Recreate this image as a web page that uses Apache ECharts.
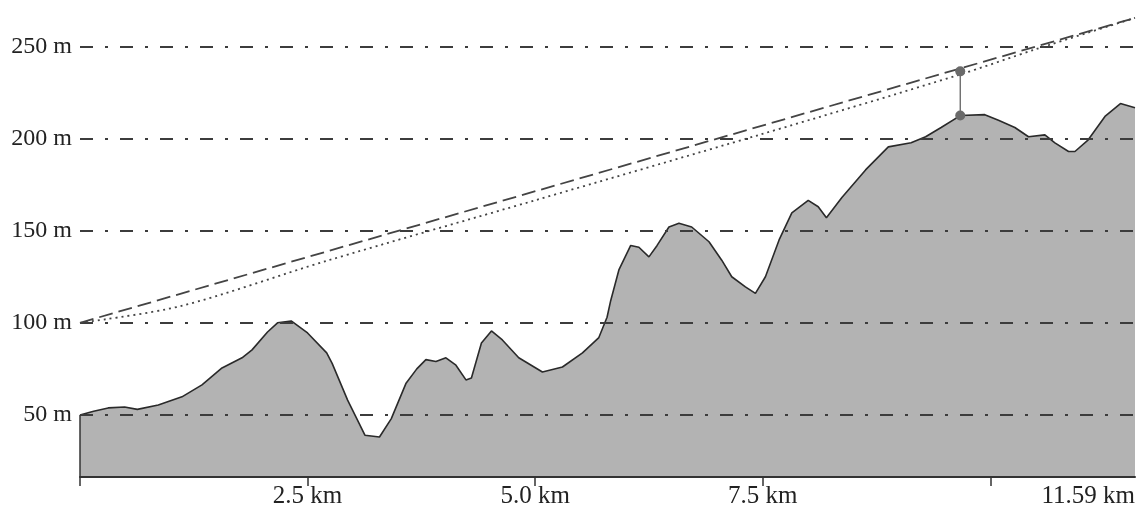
<!DOCTYPE html>
<html>
<head>
<meta charset="utf-8">
<script src="https://cdn.jsdelivr.net/npm/echarts@6/dist/echarts.min.js"></script>
<style>
html,body{margin:0;padding:0;background:#fff;}
#chart{width:1138px;height:523px;}
</style>
</head>
<body>
<div id="chart"></div>
<script>
// Terrain profile
const distKm = [0,0.15,0.31,0.49,0.63,0.86,1.12,1.34,1.56,1.78,1.89,2.06,2.17,2.32,2.5,2.71,2.77,2.94,3.13,3.29,3.42,3.58,3.7,3.8,3.91,4.02,4.13,4.24,4.3,4.41,4.52,4.64,4.82,5.08,5.3,5.52,5.7,5.79,5.83,5.92,6.05,6.14,6.25,6.34,6.47,6.58,6.72,6.91,7.05,7.16,7.31,7.42,7.53,7.68,7.82,8.0,8.11,8.2,8.37,8.63,8.88,9.13,9.29,9.46,9.67,9.94,10.09,10.27,10.42,10.6,10.71,10.86,10.93,11.07,11.26,11.43,11.59];
const elevM = [50,52,53.8,54.3,53,55.4,59.8,66.3,75.5,81,85.3,95,100,101,94.5,83.7,78,58,39,38,48,67,75,80,79,81,77,69,70,89,95.6,90.7,81,73.3,76,83.7,92,103,112,128.7,142,141,135.8,142,152,154,152,144,134,125,119.5,116,125,145,159.7,166.5,163,157,168,183,195.5,197.7,201,206,212.5,213,210,206,201,202,197.7,193,193,199,212,219,216.7];
// Straight line of sight (dashed)
const losDist = [0, 11.59];
const losElev = [100, 265.5];
// Curved line (dotted)
const curveDist = [0, 1.1, 2.7, 5.0, 7.46, 9.65, 10.5, 11.59];
const curveElev = [100, 109, 133.5, 166.5, 202, 234.5, 248.5, 265.5];
// Marker (obstacle point)
const markDist = [9.67, 9.67];
const markElev = [236.5, 212.5];
// Axis ticks / labels
const yTicks = [50, 100, 150, 200, 250];
const yUnit = ' m';
const xTicks = [0, 2.5, 5, 7.5, 10];
const xLabelValues = [2.5, 5, 7.5, 11.59];
const xLabelTexts = ['2.5 km', '5.0 km', '7.5 km', '11.59 km'];
const Y_MIN = 16.3, Y_MAX = 269.8, X_MAX = 11.59;

const zip = (a, b) => a.map((v, i) => [v, b[i]]);
const chart = echarts.init(document.getElementById('chart'));
const font = '"Liberation Serif", "Times New Roman", serif';
chart.setOption({
  animation: false,
  grid: {left: 80, right: 1, top: 10, bottom: 46},
  xAxis: {
    type: 'value', min: 0, max: X_MAX, z: 5,
    axisLine: {show: true, lineStyle: {color: '#333', width: 2}},
    axisTick: {show: true, length: 9, customValues: xTicks, lineStyle: {color: '#333', width: 1.5}},
    axisLabel: {
      customValues: xLabelValues,
      formatter: v => { const i = xLabelValues.findIndex(x => Math.abs(x - v) < 1e-6); return i >= 0 ? xLabelTexts[i] : ''; },
      fontFamily: font, fontSize: 25, color: '#222', margin: 7, alignMaxLabel: 'right'
    },
    splitLine: {show: false}
  },
  yAxis: {
    type: 'value', min: Y_MIN, max: Y_MAX, z: 5,
    axisLine: {show: false},
    axisTick: {show: false, customValues: yTicks},
    axisLabel: {customValues: yTicks, formatter: v => v + yUnit, fontFamily: font, fontSize: 24, color: '#222', margin: 8},
    splitLine: {show: true, lineStyle: {color: '#3c3c3c', width: 2, type: [13, 12, 3, 12]}}
  },
  series: [
    {
      type: 'line', data: zip(distKm, elevM), symbol: 'none', z: 2,
      lineStyle: {color: '#2a2a2a', width: 1.6},
      areaStyle: {color: '#b3b3b3', opacity: 1},
      markLine: {
        silent: true, symbol: 'none', label: {show: false},
        lineStyle: {color: '#333', width: 1.5, type: 'solid'},
        data: [[{coord: [distKm[0], Y_MIN]}, {coord: [distKm[0], elevM[0]]}]]
      }
    },
    {
      type: 'line', data: zip(losDist, losElev), symbol: 'none', z: 6,
      lineStyle: {color: '#444', width: 1.8, type: [14, 6]}
    },
    {
      type: 'line', data: zip(curveDist, curveElev), symbol: 'none', smooth: 0.3, z: 6,
      lineStyle: {color: '#444', width: 1.8, type: [2, 4]}
    },
    {
      type: 'line', data: zip(markDist, markElev), symbol: 'circle', symbolSize: 10, z: 7,
      itemStyle: {color: '#6a6a6a'},
      lineStyle: {color: '#555', width: 1.2}
    }
  ]
});
</script>
</body>
</html>
